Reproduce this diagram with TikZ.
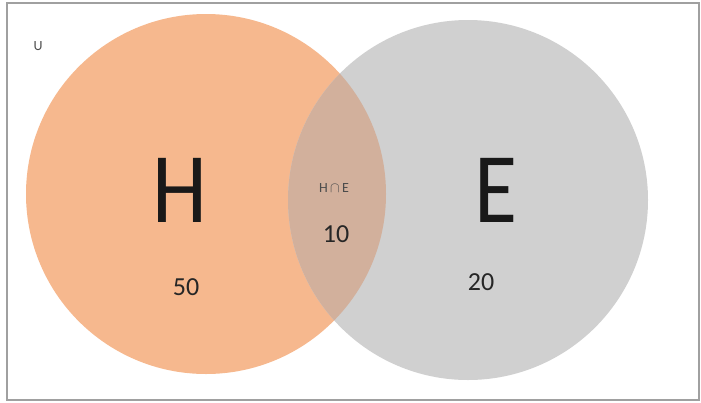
\documentclass[tikz,border=0pt]{standalone}
\usepackage{fontspec}
\setmainfont{Carlito}
\usepackage{xcolor}
\definecolor{colH}{HTML}{F6B88E}
\definecolor{colE}{HTML}{D0D0D0}
\definecolor{colBoth}{HTML}{D2B09C}
\definecolor{frameEdge}{HTML}{A0A0A0}

\begin{document}
\begin{tikzpicture}[
    x=1pt, y=-1pt,
    setcircle/.style={
        circle, minimum size=360pt, inner sep=0pt
    },
    biglabel/.style={
        font=\fontsize{100}{100}\selectfont, text=black!90, inner sep=0pt,
        xscale=0.88, transform shape
    },
    countlabel/.style={
        font=\fontsize{26}{26}\selectfont, text=black!85, inner sep=0pt
    },
    smalllabel/.style={
        font=\fontsize{14}{14}\selectfont, text=black!70, inner sep=0pt
    }
]

    % --- FRAME (universe) ---
    \useasboundingbox (0,0) rectangle (701,402);
    \draw[frameEdge, line width=1.5pt] (7,3) rectangle (699,400);

    % --- SETS ---
    \node[setcircle, fill=colH] (setH) at (206,194) {};
    \node[setcircle, fill=colE] (setE) at (468,200) {};

    % --- INTERSECTION ---
    \begin{scope}
        \clip (setH.center) circle (180pt);
        \fill[colBoth] (setE.center) circle (180pt);
    \end{scope}

    % --- LABELS ---
    \node[smalllabel] (labU) at (38,46) {U};
    \node[biglabel] (labH) at (180,190) {H};
    \node[biglabel] (labE) at (496,190) {E};
    \node[smalllabel] (labHE) at (334,188) {H\,$\cap$\,E};
    \node[countlabel] (numH) at (186,287) {50};
    \node[countlabel] (numHE) at (336,234) {10};
    \node[countlabel] (numE) at (481,282) {20};

\end{tikzpicture}
\end{document}
